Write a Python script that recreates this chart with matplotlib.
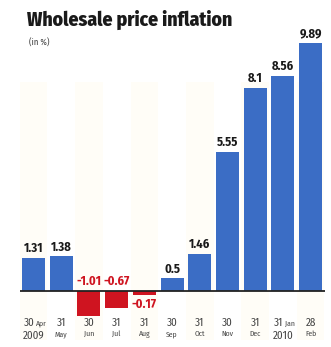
import numpy as np
import matplotlib
matplotlib.use("Agg")
import matplotlib.pyplot as plt

# data
days = ["30", "31", "30", "31", "31", "30", "31", "30", "31", "31", "28"]
months = ["Apr", "May", "Jun", "Jul", "Aug", "Sep", "Oct", "Nov", "Dec", "Jan", "Feb"]
years = ["2009", "", "", "", "", "", "", "", "", "2010", ""]
values = [1.31, 1.38, -1.01, -0.67, -0.17, 0.5, 1.46, 5.55, 8.1, 8.56, 9.89]
labels = ["1.31", "1.38", "-1.01", "-0.67", "-0.17", "0.5", "1.46", "5.55", "8.1", "8.56", "9.89"]

blue = "#3b6dc5"
red = "#cf1420"
font = "Fira Sans Condensed"

fig = plt.figure(figsize=(3.31, 3.47), dpi=100)
W, H = 331, 347
# axes placed in pixels: left 20, right 325, top 40, bottom 320
ax = fig.add_axes([20 / W, (H - 320) / H, 305 / W, 280 / H])

x = np.arange(len(values))
colors = [blue if v >= 0 else red for v in values]
ax.bar(x, values, width=0.83, color=colors, zorder=2)

ax.set_xlim(-0.49, 10.52)
ax.set_ylim(-1.167, 9.997)
ax.axhline(0, color="#222222", lw=1.3, zorder=3)

# very faint column stripes
for i in x:
    if i % 2 == 0:
        ax.axvspan(i - 0.5, i + 0.5, ymin=-0.07, ymax=0.85, color="#fffdf7",
                   zorder=0, clip_on=False, lw=0)

for i, v in enumerate(values):
    if v >= 0:
        ax.text(i, v + 0.12, labels[i], ha="center", va="bottom", fontsize=9,
                fontweight="bold", color="#1a1a1a", family=font)
    elif v > -0.3:
        ax.text(i, v - 0.12, labels[i], ha="center", va="top", fontsize=9,
                fontweight="bold", color=red, family=font)
    else:
        ax.text(i, 0.12, labels[i], ha="center", va="bottom", fontsize=9,
                fontweight="bold", color=red, family=font)

# date labels under the axis
tr = ax.get_xaxis_transform()
for i in x:
    if years[i]:
        ax.text(i + 0.02, -0.012, days[i], transform=tr, ha="right", va="center",
                fontsize=8, color="#444444", family=font)
        ax.text(i + 0.08, -0.014, months[i], transform=tr, ha="left", va="center",
                fontsize=5.5, color="#444444", family=font)
        ax.text(i, -0.058, years[i], transform=tr, ha="center", va="center",
                fontsize=8, color="#444444", family=font)
    else:
        ax.text(i, -0.012, days[i], transform=tr, ha="center", va="center",
                fontsize=8, color="#444444", family=font)
        ax.text(i, -0.05, months[i], transform=tr, ha="center", va="center",
                fontsize=5.5, color="#444444", family=font)

for s in ax.spines.values():
    s.set_visible(False)
ax.set_xticks([])
ax.set_yticks([])

fig.text(27 / W, 1 - 20 / H, "Wholesale price inflation", ha="left", va="center",
         fontsize=14.2, fontweight="heavy", color="#1a1a1a", family=font)
fig.text(29 / W, 1 - 43 / H, "(in %)", ha="left", va="center", fontsize=6.3,
         color="#444444", family=font)

fig.savefig("out.png", dpi=100)
